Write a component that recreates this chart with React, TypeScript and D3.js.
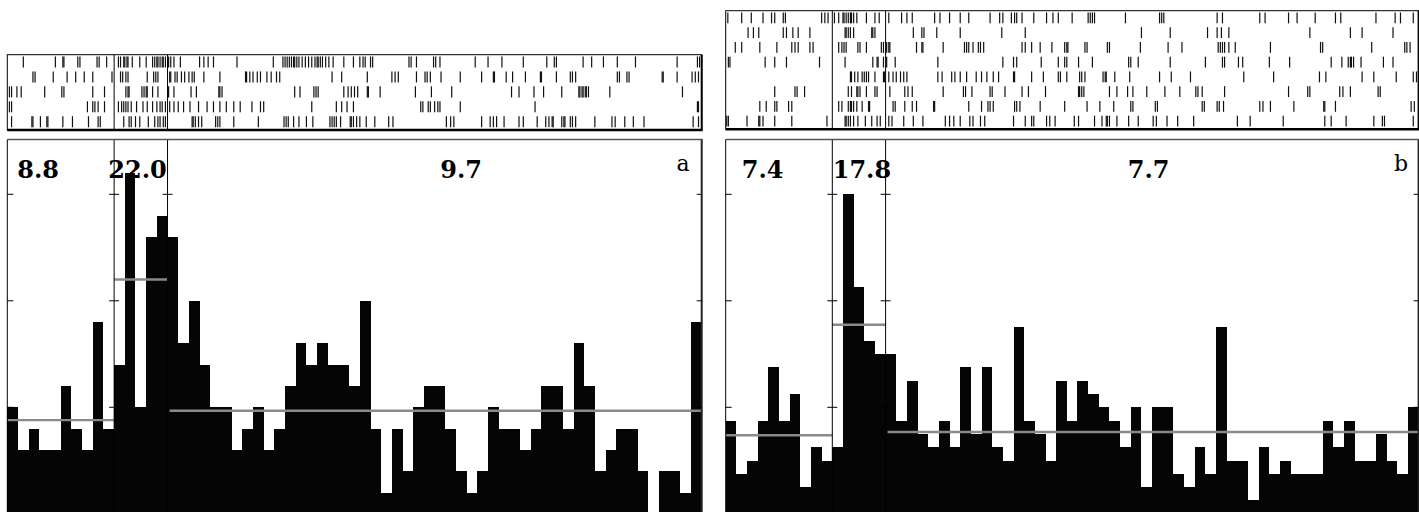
import React from 'react';
import * as d3 from 'd3';

// time in seconds, stimulus from 0 to 0.5 s, bins of 0.1 s
const binWidth = 0.1;
const tStart = -1.0;
const tEnd = 5.5;
const stimOn = 0;
const stimOff = 0.5;
const yTicks = [10, 20, 30];

// PSTH rates (spikes/s) per bin, panel a (5 trials) and panel b (8 trials)
const rateA = [
  10, 6, 8, 6, 6, 12, 8, 6, 18, 8,
  14, 32, 10, 26, 28,
  26, 16, 20, 14, 10, 10, 6, 8, 10, 6, 8, 12, 16, 14, 16, 14, 14, 12, 20, 8,
  2, 8, 4, 10, 12, 12, 8, 4, 2, 4, 10, 8, 8, 6, 8, 12, 12, 8, 16, 12,
  4, 6, 8, 8, 4, 0, 4, 4, 2, 18,
];
const rateB = [
  8.75, 3.75, 5, 8.75, 13.75, 8.75, 11.25, 2.5, 6.25, 5,
  6.25, 30, 21.25, 16.25, 15,
  15, 8.75, 12.5, 7.5, 6.25, 8.75, 6.25, 13.75, 7.5, 13.75, 6.25, 5, 17.5, 8.75, 7.5,
  5, 12.5, 8.75, 12.5, 11.25, 10, 8.75, 6.25, 10, 2.5, 10, 10, 3.75, 2.5, 6.25,
  3.75, 17.5, 5, 5, 1.25, 6.25, 3.75, 5, 3.75, 3.75, 3.75, 8.75, 6.25, 8.75, 5,
  5, 7.5, 5, 3.75, 10,
];

// spike times (s) per trial
const spikesA = [
  [-0.85, -0.55, -0.48, -0.47, -0.34, -0.32, -0.16, -0.14, -0.07, 0.04, 0.06, 0.09, 0.10, 0.12, 0.13, 0.17, 0.24, 0.30, 0.36, 0.38, 0.40, 0.41, 0.43, 0.45, 0.46, 0.48,
    0.51, 0.53, 0.56, 0.62, 0.80, 0.84, 0.88, 0.93, 1.15, 1.49, 1.58, 1.60, 1.62, 1.64, 1.66, 1.68, 1.69, 1.71, 1.73, 1.76, 1.79, 1.82, 1.85, 1.88, 1.90, 1.91, 1.93, 1.95, 1.98, 2.01, 2.05, 2.15, 2.24,
    2.30, 2.33, 2.35, 2.40, 2.42, 2.76, 2.78, 2.83, 2.99, 3.01, 3.05, 3.38, 3.50, 3.63, 3.83, 4.05, 4.12, 4.14, 4.39, 4.47, 4.58, 4.71, 4.88, 5.27, 5.46, 5.48],
  [-0.76, -0.74, -0.57, -0.44, -0.36, -0.28, -0.20, -0.02, 0.06, 0.08, 0.11, 0.13, 0.31, 0.37, 0.39, 0.41,
    0.52, 0.53, 0.57, 0.59, 0.63, 0.66, 0.70, 0.73, 0.75, 0.84, 0.99, 1.23, 1.24, 1.27, 1.30, 1.34, 1.37, 1.43, 1.47, 1.52, 1.55, 2.04, 2.13,
    2.37, 2.60, 2.63, 2.66, 2.83, 2.91, 2.93, 2.96, 3.06, 3.24, 3.44, 3.55, 3.56, 3.67, 3.73, 3.85, 3.99, 4.00, 4.14, 4.27, 4.29, 4.32, 4.71, 4.73, 4.80, 4.82, 5.13, 5.14, 5.27, 5.41, 5.44, 5.47],
  [-0.98, -0.96, -0.91, -0.87, -0.65, -0.49, -0.47, -0.20, -0.09, 0.11, 0.13, 0.14, 0.26, 0.28, 0.30, 0.31, 0.36, 0.41,
    0.51, 0.56, 0.72, 0.77, 0.98, 0.99, 1.01, 1.69, 1.74, 1.87, 1.89, 1.91, 2.15, 2.19, 2.22, 2.25, 2.28,
    2.37, 2.38, 2.49, 2.82, 2.97, 3.16, 3.72, 3.79, 3.93, 4.02, 4.19, 4.35, 4.36, 4.38, 4.39, 4.41, 4.42, 4.44, 4.64, 5.32],
  [-0.98, -0.96, -0.25, -0.20, -0.18, -0.15, -0.09, 0.04, 0.07, 0.09, 0.11, 0.13, 0.16, 0.21, 0.27, 0.31, 0.36, 0.40, 0.43, 0.45, 0.48,
    0.52, 0.56, 0.60, 0.65, 0.71, 0.79, 0.87, 0.93, 0.99, 1.05, 1.12, 1.18, 1.29, 1.37, 1.40, 1.85, 2.08, 2.13, 2.18, 2.24,
    2.87, 2.89, 2.94, 2.96, 3.00, 3.03, 3.05, 3.24, 3.94, 5.46, 5.47],
  [-0.96, -0.77, -0.76, -0.69, -0.63, -0.62, -0.48, -0.39, -0.24, -0.15, -0.13, 0.09, 0.14, 0.16, 0.20, 0.24, 0.32, 0.38, 0.41, 0.43, 0.46, 0.48,
    0.73, 0.74, 0.76, 0.79, 0.82, 0.95, 0.97, 0.99, 1.12, 1.35, 1.59, 1.61, 1.63, 1.68, 1.73, 1.80, 1.86, 2.02, 2.04, 2.06, 2.08, 2.12, 2.21, 2.22,
    2.24, 2.27, 2.30, 2.36, 2.44, 2.57, 2.61, 3.11, 3.15, 3.18, 3.44, 3.52, 3.55, 3.58, 3.65, 3.79, 3.83, 3.96, 4.04, 4.07, 4.10, 4.11, 4.19, 4.21, 4.22, 4.27, 4.29, 4.32, 4.50, 4.66, 4.69, 4.78, 4.86, 4.96, 5.42, 5.47],
];
const spikesB = [
  [-0.98, -0.85, -0.76, -0.65, -0.57, -0.54, -0.46, -0.44, -0.10, -0.07, -0.04, 0.02, 0.06, 0.10, 0.11, 0.13, 0.15, 0.17, 0.18, 0.20, 0.23, 0.32, 0.40, 0.44,
    0.53, 0.65, 0.70, 0.75, 0.96, 1.01, 1.10, 1.20, 1.28, 1.48, 1.57, 1.60, 1.68, 1.71, 1.73, 1.78, 1.89, 2.01, 2.07, 2.12,
    2.25, 2.40, 2.42, 2.44, 2.46, 2.75, 3.07, 3.09, 3.11, 3.61, 3.66, 4.01, 4.06, 4.28, 4.36, 4.53, 4.72, 4.77, 5.10, 5.28, 5.33, 5.45],
  [-0.79, -0.74, -0.69, -0.46, -0.43, -0.37, -0.32, -0.21, 0.12, 0.13, 0.15, 0.17, 0.20, 0.37, 0.38, 0.40, 0.76, 0.84, 0.86, 0.98, 1.20, 1.59, 1.81,
    2.90, 3.17, 3.52, 3.61, 3.65, 3.72, 4.48, 4.86, 4.97, 5.26],
  [-0.91, -0.85, -0.68, -0.52, -0.38, -0.35, -0.32, -0.21, -0.18, 0.06, 0.09, 0.11, 0.13, 0.24, 0.26, 0.32, 0.46, 0.48,
    0.51, 0.53, 0.54, 0.79, 0.84, 0.85, 1.04, 1.24, 1.26, 1.28, 1.32, 1.37, 1.39, 1.42, 1.78, 1.81, 1.87, 1.95, 2.06, 2.18, 2.20, 2.21,
    2.37, 2.39, 2.58, 2.60, 2.89, 3.15, 3.28, 3.62, 3.64, 3.66, 3.68, 3.72, 3.78, 4.11, 4.58, 4.60, 5.06, 5.37, 5.39, 5.42],
  [-0.975, -0.96, -0.63, -0.54, -0.43, -0.12, 0.12, 0.38, 0.42, 0.43, 0.48, 0.51, 0.59, 0.99, 1.60, 1.70, 1.73, 1.96, 2.12, 2.18, 2.20,
    2.31, 2.44, 2.78, 2.80, 2.87, 3.17, 3.50, 3.66, 3.68, 3.81, 3.85, 4.10, 4.29, 4.68, 4.78, 4.84, 4.86, 4.87, 4.89, 4.96, 5.17, 5.26],
  [0.17, 0.18, 0.21, 0.24, 0.28, 0.30, 0.32, 0.34, 0.40, 0.48, 0.49, 0.53, 0.57, 0.60, 0.64, 0.67, 0.70, 0.99, 1.03, 1.12, 1.15, 1.20, 1.26, 1.35, 1.40, 1.45, 1.51, 1.56, 1.70, 1.71, 1.87, 1.98, 2.12, 2.14, 2.20,
    2.32, 2.34, 2.37, 2.54, 2.56, 2.57, 2.65, 2.79, 3.07, 3.18, 3.36, 3.86, 4.14, 4.57, 4.63, 4.97, 5.08, 5.29, 5.45, 5.48],
  [-0.54, -0.35, -0.33, -0.26, 0.15, 0.18, 0.23, 0.24, 0.26, 0.32, 0.40, 0.42, 0.54, 0.68, 0.71, 0.75, 1.04, 1.23, 1.25, 1.31, 1.48, 1.50, 1.62, 1.78, 1.84, 2.00,
    2.31, 2.32, 2.34, 2.36, 2.60, 2.67, 2.77, 2.82, 2.95, 3.12, 3.26, 3.41, 3.43, 3.47, 3.68, 4.28, 4.46, 4.48, 4.76, 4.79, 4.86, 5.12, 5.14],
  [-0.68, -0.62, -0.54, -0.52, -0.41, -0.38, 0.06, 0.09, 0.15, 0.17, 0.18, 0.20, 0.23, 0.28, 0.34, 0.35, 0.57, 0.59, 0.68, 0.75, 0.79, 0.95, 0.96, 1.28, 1.40, 1.46, 1.48, 1.51, 1.71, 1.73, 1.76, 1.95, 2.18,
    2.39, 2.51, 2.64, 2.80, 2.82, 3.03, 3.05, 3.47, 3.49, 3.61, 3.63, 3.67, 4.01, 4.04, 4.11, 4.33, 4.61, 4.62, 4.72, 5.43, 5.46],
  [-0.99, -0.975, -0.80, -0.69, -0.68, -0.65, -0.54, -0.38, -0.05, 0.12, 0.13, 0.15, 0.17, 0.20, 0.24, 0.31, 0.37, 0.42, 0.45,
    0.53, 0.56, 0.67, 0.76, 0.85, 1.06, 1.10, 1.14, 1.20, 1.29, 1.32, 1.39, 1.43, 1.70, 1.81, 1.87, 1.89, 2.01, 2.04, 2.09,
    2.27, 2.31, 2.46, 2.53, 2.57, 2.58, 2.60, 2.67, 2.78, 2.87, 3.01, 3.04, 3.14, 3.24, 3.39, 3.80, 3.92, 4.23, 4.62, 4.68, 4.82, 5.08, 5.16, 5.18, 5.45],
];

const W = 1419;
const H = 512;
const histTop = 139.5;

const panels = [
  { id: 'a', rates: rateA, spikes: spikesA, left: 7.3, right: 701.7, rasterTop: 54.7, rasterBottom: 130,
    labelDx: [10, 101, 433], letterDx: 12 },
  { id: 'b', rates: rateB, spikes: spikesB, left: 725.7, right: 1418.6, rasterTop: 10.7, rasterBottom: 129.3,
    labelDx: [16, 107, 402], letterDx: 10.6 },
];

const y = d3.scaleLinear().domain([0, 35]).range([513.8, 141.05]);

function Panel({ p }: { p: typeof panels[number] }) {
  const x = d3.scaleLinear().domain([tStart, tEnd]).range([p.left, p.right]);
  const rows = d3.scaleBand<number>()
    .domain(d3.range(p.spikes.length))
    .range([p.rasterTop + 1, p.rasterBottom - 2])
    .paddingInner(0.26)
    .paddingOuter(0.05);

  const binT = (i: number) => tStart + i * binWidth;
  const nPre = Math.round((stimOn - tStart) / binWidth);
  const nStim = Math.round((stimOff - stimOn) / binWidth);
  const windows = [
    { t0: tStart, t1: stimOn, vals: p.rates.slice(0, nPre) },
    { t0: stimOn, t1: stimOff, vals: p.rates.slice(nPre, nPre + nStim) },
    { t0: stimOff, t1: tEnd, vals: p.rates.slice(nPre + nStim) },
  ].map((w) => ({ ...w, mean: d3.mean(w.vals) as number }));

  const serif = '"DejaVu Serif", "Liberation Serif", serif';

  return (
    <g>
      {/* raster */}
      <g>
        {p.spikes.map((trial, r) => (
          <g key={r}>
            {trial.map((t, k) => (
              <line key={k} x1={x(t)} x2={x(t)} y1={rows(r)!} y2={rows(r)! + rows.bandwidth()}
                stroke="#111" strokeWidth={1.2} />
            ))}
          </g>
        ))}
        {[stimOn, stimOff].map((t) => (
          <line key={t} x1={x(t)} x2={x(t)} y1={p.rasterTop} y2={p.rasterBottom} stroke="#000" strokeWidth={1} />
        ))}
        <rect x={p.left} y={p.rasterTop} width={p.right - p.left} height={p.rasterBottom - p.rasterTop}
          fill="none" stroke="#000" strokeWidth={1} />
        <line x1={p.left} x2={p.right + 1} y1={p.rasterBottom} y2={p.rasterBottom} stroke="#000" strokeWidth={2.4} />
        <line x1={p.right} x2={p.right} y1={p.rasterTop} y2={p.rasterBottom} stroke="#000" strokeWidth={2} />
      </g>

      {/* histogram */}
      <g shapeRendering="crispEdges">
        {p.rates.map((v, i) => (
          <rect key={i} x={x(binT(i))} width={x(binT(i + 1)) - x(binT(i))}
            y={y(v)} height={y(0) - y(v)} fill="#050505" />
        ))}
      </g>
      {windows.map((w, i) => (
        <line key={i} x1={x(w.t0) + (i === 2 ? 2 : 0)} x2={x(w.t1)} y1={y(w.mean)} y2={y(w.mean)}
          stroke="#8a8a8a" strokeWidth={2.4} />
      ))}
      {[stimOn, stimOff].map((t) => (
        <line key={t} x1={x(t)} x2={x(t)} y1={histTop} y2={H} stroke="#000" strokeWidth={1} />
      ))}
      <line x1={p.left} x2={p.left} y1={histTop} y2={H} stroke="#000" strokeWidth={1} />
      <line x1={p.right} x2={p.right} y1={histTop} y2={H} stroke="#222" strokeWidth={2} />
      <line x1={p.left} x2={p.right + 1} y1={histTop} y2={histTop} stroke="#555" strokeWidth={1.4} />
      {yTicks.map((v) => (
        <g key={v} stroke="#000" strokeWidth={1}>
          <line x1={p.left} x2={p.left + 6} y1={y(v)} y2={y(v)} />
          <line x1={x(stimOn) - 5} x2={x(stimOn) + 5} y1={y(v)} y2={y(v)} />
          <line x1={x(stimOff) - 5} x2={x(stimOff) + 5} y1={y(v)} y2={y(v)} />
          <line x1={p.right - 5} x2={p.right} y1={y(v)} y2={y(v)} />
        </g>
      ))}
      {windows.map((w, i) => (
        <text key={i} x={p.left + p.labelDx[i]} y={178} fontFamily={serif} fontWeight="bold"
          fontSize={24} fill="#000">
          {w.mean.toFixed(1)}
        </text>
      ))}
      <text x={p.right - p.letterDx} y={170.5} textAnchor="end" fontFamily={serif} fontSize={22} fill="#000">
        {p.id}
      </text>
    </g>
  );
}

export default function App() {
  return (
    <svg width={W} height={H} viewBox={`0 0 ${W} ${H}`}
      style={{ position: 'absolute', left: 0, top: 0, background: '#fff', display: 'block' }}>
      <rect width={W} height={H} fill="#fff" />
      {panels.map((p) => (
        <Panel key={p.id} p={p} />
      ))}
    </svg>
  );
}
